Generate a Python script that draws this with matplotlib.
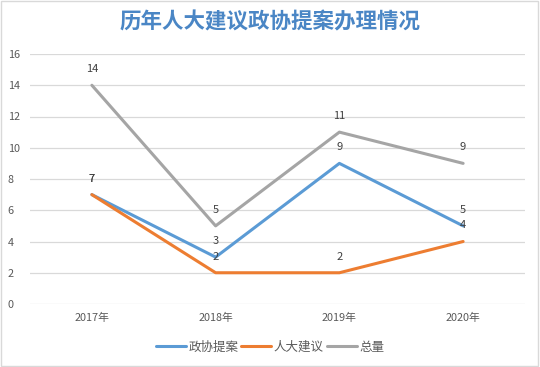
import matplotlib
matplotlib.use("Agg")
import matplotlib.pyplot as plt
from matplotlib.patches import Rectangle

plt.rcParams['font.family'] = ['Noto Sans CJK SC', 'DejaVu Sans']

years = ["2017年", "2018年", "2019年", "2020年"]
zx_proposals = [7, 3, 9, 5]      # 政协提案
rd_suggestions = [7, 2, 2, 4]    # 人大建议
totals = [14, 5, 11, 9]          # 总量

series = [
    ("政协提案", zx_proposals, "#5B9BD5"),
    ("人大建议", rd_suggestions, "#ED7D31"),
    ("总量", totals, "#A5A5A5"),
]

fig = plt.figure(figsize=(5.4, 3.67), dpi=100)
ax = fig.add_axes([30 / 540, 1 - 304 / 367, 495 / 540, 250 / 367])

x = list(range(len(years)))
for name, vals, color in series:
    ax.plot(x, vals, color=color, linewidth=2.2, label=name, solid_capstyle="round")
    for xi, v in zip(x, vals):
        ax.annotate(str(v), (xi, v), xytext=(0, 8), textcoords="offset points",
                    ha="center", va="bottom", fontsize=8, color="#404040")

ax.set_xlim(-0.5, len(years) - 0.5)
ax.set_ylim(0, 16)
ax.set_yticks(range(0, 17, 2))
ax.set_xticks(x)
ax.set_xticklabels(years)
ax.grid(axis="y", color="#D9D9D9", linewidth=0.9)
ax.set_axisbelow(True)
for s in ax.spines.values():
    s.set_visible(False)
ax.tick_params(length=0, labelsize=7.8, colors="#595959", pad=6)
ax.tick_params(axis="y", pad=16)
for lbl in ax.get_yticklabels():
    lbl.set_horizontalalignment("left")

fig.text(0.5, 1 - 22 / 367, "历年人大建议政协提案办理情况", ha="center", va="center",
         fontsize=15.5, fontweight="bold", color="#4A86C5")

leg = fig.legend(loc="center", bbox_to_anchor=(0.5, 1 - 347 / 367), ncol=3,
                 frameon=False, fontsize=9, handlelength=2.4, columnspacing=0.25,
                 handletextpad=0.2, labelcolor="#595959")

fig.patches.append(Rectangle((0.002, 0.003), 0.995, 0.994, transform=fig.transFigure,
                             fill=False, edgecolor="#D9D9D9", linewidth=1))

fig.savefig("out.png", dpi=100)
